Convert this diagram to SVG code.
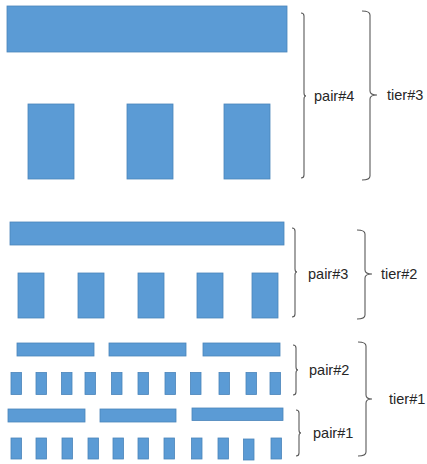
<svg xmlns="http://www.w3.org/2000/svg" width="427" height="464" viewBox="0 0 427 464">
<style>
.b{fill:#5B9BD5;stroke:#4A84BA;stroke-width:0.8}
.br{fill:none;stroke:#595959;stroke-width:1.1}
.t{font-family:"Liberation Sans",Arial,sans-serif;font-size:14.5px;fill:#262626}
</style>
<rect width="427" height="464" fill="#fff"/>
<g id="tier3-blocks">
<rect class="b" x="7" y="6" width="280" height="46"/>
<rect class="b" x="28" y="104" width="46" height="75"/>
<rect class="b" x="127" y="104" width="46" height="75"/>
<rect class="b" x="224" y="104" width="46" height="75"/>
</g>
<g id="tier2-blocks">
<rect class="b" x="10" y="222" width="274" height="23"/>
<rect class="b" x="18" y="273" width="26" height="45"/>
<rect class="b" x="78" y="273" width="26" height="45"/>
<rect class="b" x="138" y="273" width="26" height="45"/>
<rect class="b" x="197" y="273" width="26" height="45"/>
<rect class="b" x="252" y="273" width="26" height="45"/>
</g>
<g id="pair2-blocks">
<rect class="b" x="17" y="343" width="77" height="13"/>
<rect class="b" x="109" y="343" width="77" height="13"/>
<rect class="b" x="203" y="343" width="77" height="13"/>
<rect class="b" x="11" y="372.5" width="10.5" height="22"/>
<rect class="b" x="36" y="372.5" width="10.5" height="22"/>
<rect class="b" x="61.5" y="372.5" width="10.5" height="22"/>
<rect class="b" x="85" y="372.5" width="10.5" height="22"/>
<rect class="b" x="111.5" y="372.5" width="10.5" height="22"/>
<rect class="b" x="138" y="372.5" width="10.5" height="22"/>
<rect class="b" x="165" y="372.5" width="10.5" height="22"/>
<rect class="b" x="190.5" y="372.5" width="10.5" height="22"/>
<rect class="b" x="219" y="372.5" width="10.5" height="22"/>
<rect class="b" x="246" y="372.5" width="10.5" height="22"/>
<rect class="b" x="270" y="372.5" width="10.5" height="22"/>
</g>
<g id="pair1-blocks">
<rect class="b" x="8" y="409" width="77" height="13"/>
<rect class="b" x="100" y="409" width="76" height="13"/>
<rect class="b" x="192" y="408" width="91" height="12.5"/>
<rect class="b" x="11" y="438" width="10.5" height="21"/>
<rect class="b" x="36" y="438" width="10.5" height="21"/>
<rect class="b" x="62" y="438" width="10.5" height="21"/>
<rect class="b" x="88" y="438" width="10.5" height="21"/>
<rect class="b" x="113" y="438" width="10.5" height="21"/>
<rect class="b" x="138" y="438" width="10.5" height="21"/>
<rect class="b" x="164" y="438" width="10.5" height="21"/>
<rect class="b" x="191.5" y="438" width="10.5" height="21"/>
<rect class="b" x="218" y="438" width="10.5" height="21"/>
<rect class="b" x="243.5" y="439" width="10.5" height="21"/>
<rect class="b" x="271" y="438" width="10.5" height="21"/>
</g>
<g id="connectors">
<path class="br" d="M301,13 Q304,13 304,16 V93 Q304,96 306,96 Q304,96 304,99 V175 Q304,178 301,178"/>
<path class="br" d="M362,11 Q370,11 370,15 V91 Q370,95 377,95 Q370,95 370,99 V176 Q370,180 362,180"/>
<path class="br" d="M292,228 Q295,228 295,231 V269 Q295,272 297,272 Q295,272 295,275 V314 Q295,317 292,317"/>
<path class="br" d="M357,230 Q365,230 365,234 V270 Q365,274 372,274 Q365,274 365,278 V315 Q365,319 357,319"/>
<path class="br" d="M293,345 Q296,345 296,348 V367 Q296,370 298,370 Q296,370 296,373 V392 Q296,395 293,395"/>
<path class="br" d="M296,410 Q299,410 299,413 V430 Q299,433 301,433 Q299,433 299,436 V453 Q299,456 296,456"/>
<path class="br" d="M358,342 Q366,342 366,346 V395 Q366,399 372,399 Q366,399 366,403 V452 Q366,456 358,456"/>
</g>
<g id="label-pair4"><text class="t" x="314" y="101">pair#4</text></g>
<g id="label-tier3"><text class="t" x="387" y="100">tier#3</text></g>
<g id="label-pair3"><text class="t" x="308" y="279">pair#3</text></g>
<g id="label-tier2"><text class="t" x="381" y="279">tier#2</text></g>
<g id="label-pair2"><text class="t" x="309" y="375">pair#2</text></g>
<g id="label-pair1"><text class="t" x="313" y="438">pair#1</text></g>
<g id="label-tier1"><text class="t" x="389" y="404">tier#1</text></g>
</svg>
